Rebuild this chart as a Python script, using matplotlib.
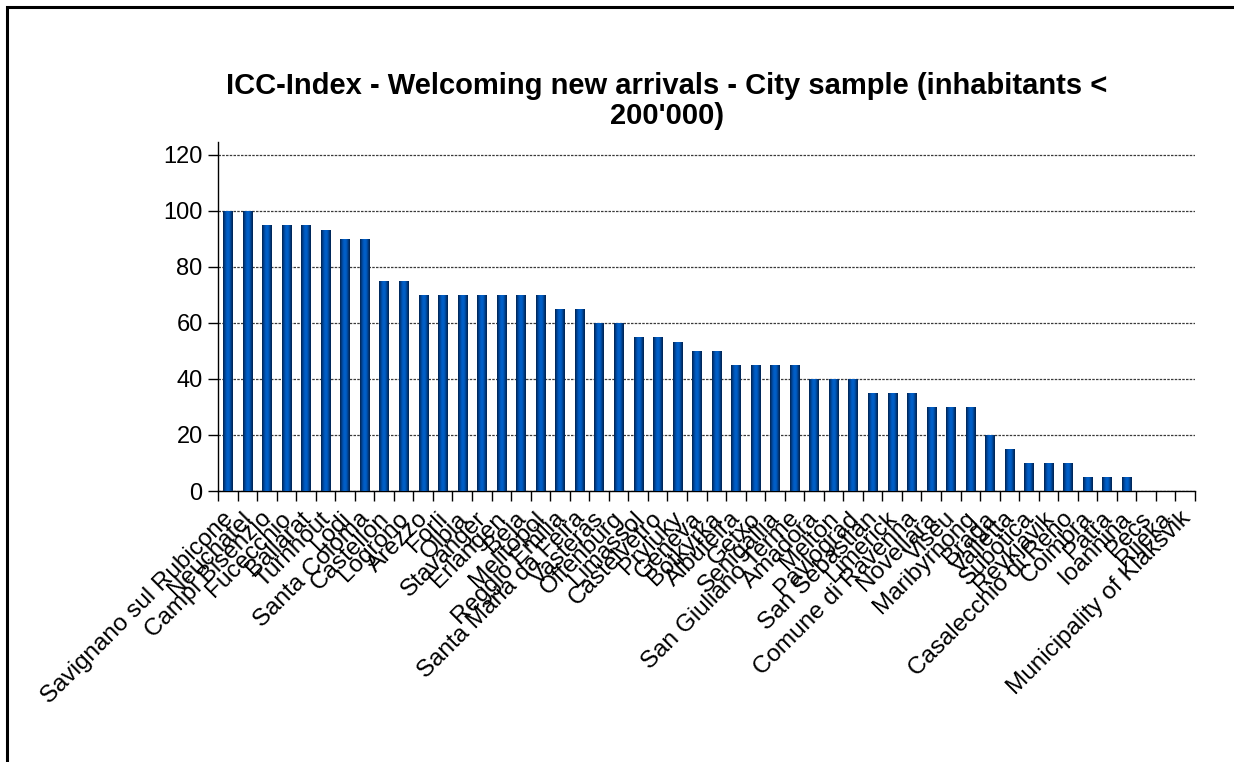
import numpy as np
import matplotlib
matplotlib.use("Agg")
import matplotlib.pyplot as plt
import matplotlib.transforms as mtransforms
from matplotlib.colors import LinearSegmentedColormap
from matplotlib.patches import Rectangle

cities = [
    "Savignano sul Rubicone", "Neuchatel", "Campi Bisenzio", "Fucecchio", "Ballarat",
    "Turnhout", "Lodi", "Santa Coloma", "Castellon", "Logrono",
    "Arezzo", "Forli", "Olbia", "Stavanger", "Erlangen",
    "Beja", "Melitopol", "Reggio Emilia", "Santa Maria da Feira", "Vasteras",
    "Offenburg", "Limassol", "Castelvetro", "Pryluky", "Geneva",
    "Botkyrka", "Albufeira", "Getxo", "Senigallia", "San Giuliano Terme",
    "Amadora", "Melton", "Pavlograd", "San Sebastian", "Limerick",
    "Comune di Ravenna", "Novellara", "Viseu", "Maribyrnong", "Braga",
    "Valletta", "Subotica", "Reykjavik", "Casalecchio di Reno", "Coimbra",
    "Patra", "Ioannina", "Pecs", "Rijeka", "Municipality of Klaksvik",
]
scores = [
    100, 100, 95, 95, 95, 93.3, 90, 90, 75, 75,
    70, 70, 70, 70, 70, 70, 70, 65, 65, 60,
    60, 55, 55, 53.3, 50, 50, 45, 45, 45, 45,
    40, 40, 40, 35, 35, 35, 30, 30, 30, 20,
    15, 10, 10, 10, 5, 5, 5, 0, 0, 0,
]
y_ticks = [0, 20, 40, 60, 80, 100, 120]
title = "ICC-Index - Welcoming new arrivals - City sample (inhabitants <\n200'000)"

plt.rcParams["font.family"] = ["Liberation Sans", "DejaVu Sans"]

W, H = 1234, 762
fig = plt.figure(figsize=(W / 100, H / 100), dpi=100)
fig.patch.set_facecolor("white")

# outer chart frame
fig.add_artist(Rectangle((7 / W, -0.05), 1.2, 1 - 7 / H + 0.05, transform=fig.transFigure,
                         fill=False, edgecolor="black", linewidth=2.2))

ax = fig.add_axes([218 / W, 1 - 491 / H, (1195 - 218) / W, (491 - 142) / H])
x = np.arange(len(cities))

for v in y_ticks:
    ax.plot([-0.5, len(cities) - 0.5], [v, v], color="#3a3a3a", lw=0.9,
            linestyle=(0, (2, 1)), zorder=1)

bars = ax.bar(x, scores, width=0.47, color="#0055b8", linewidth=0, zorder=2)

shade = LinearSegmentedColormap.from_list(
    "barshade", ["#00234f", "#003f8a", "#0058bc", "#0062cc", "#0058bb", "#003a80", "#00224d"])
grad = np.linspace(0, 1, 64).reshape(1, -1)
for b in bars:
    h = b.get_height()
    if h <= 0:
        continue
    x0 = b.get_x()
    im = ax.imshow(grad, cmap=shade, aspect="auto", extent=(x0, x0 + b.get_width(), 0, h),
                   zorder=3, interpolation="bilinear")
    im.set_clip_path(b)

ax.set_xlim(-0.5, len(cities) - 0.5)
ax.set_ylim(0, 124.6)

for s in ["top", "right"]:
    ax.spines[s].set_visible(False)
ax.spines["left"].set_linewidth(1.0)
ax.spines["bottom"].set_linewidth(1.0)

ax.set_yticks(y_ticks)
ax.set_yticklabels([str(v) for v in y_ticks], fontsize=17)
ax.tick_params(axis="y", direction="out", length=7, width=1, pad=4)

ax.set_xticks(np.arange(len(cities) + 1) - 0.5, minor=True)
ax.set_xticks(x)
ax.set_xticklabels(cities, fontsize=17.5, rotation=45, ha="right", va="top",
                   rotation_mode="anchor")
ax.tick_params(axis="x", which="major", length=0, pad=12)
ax.tick_params(axis="x", which="minor", direction="out", length=7, width=1)
shift = mtransforms.ScaledTranslation(-6 / 100, 0, fig.dpi_scale_trans)
for lab in ax.get_xticklabels():
    lab.set_transform(lab.get_transform() + shift)

fig.text(667 / W, 1 - 101 / H, title, ha="center", va="center", fontsize=21,
         fontweight="bold", linespacing=1.12)

fig.savefig("out.png", dpi=100, facecolor="white")
